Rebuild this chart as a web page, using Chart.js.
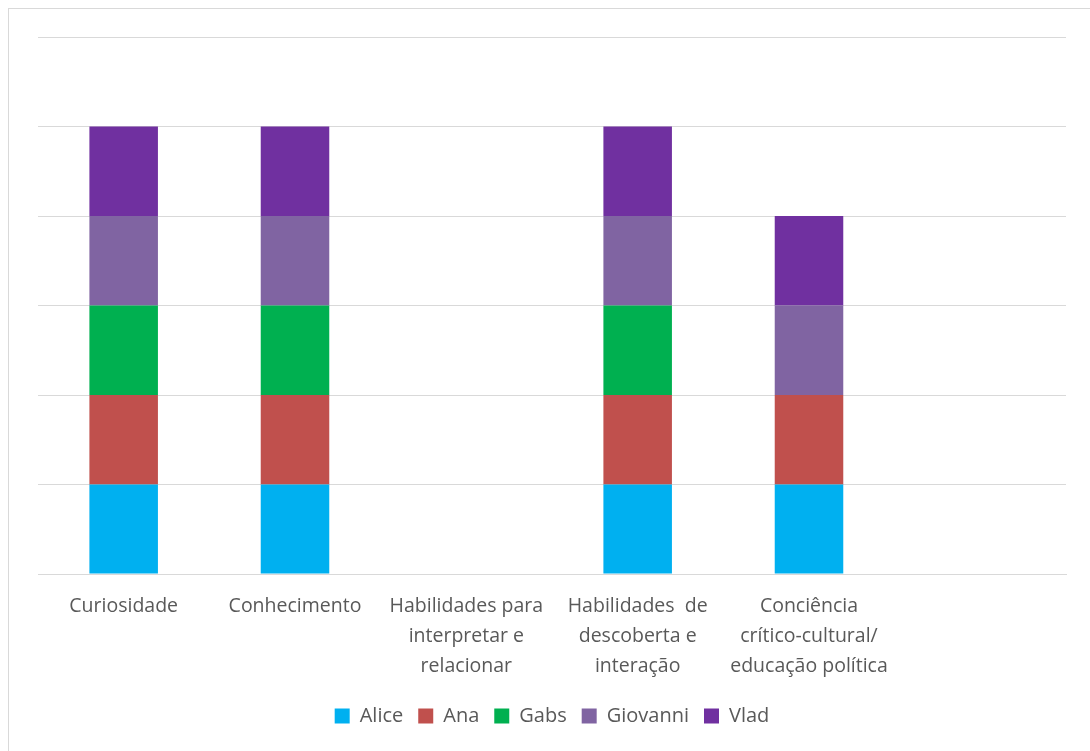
<!DOCTYPE html>
<html>
<head>
<meta charset="utf-8">
<script src="https://cdn.jsdelivr.net/npm/chart.js@4/dist/chart.umd.min.js"></script>
<style>
  html, body { margin: 0; padding: 0; background: #fff; }
  #frame { position: absolute; left: 8px; top: 8px; width: 1100px; height: 760px; border: 1px solid #d9d9d9; }
  #wrap { position: absolute; left: 0; top: 0; width: 1090px; height: 751px; }
</style>
</head>
<body>
<div id="frame"></div>
<div id="wrap"><canvas id="chart"></canvas></div>
<script>
const categories = [
  "Curiosidade",
  "Conhecimento",
  ["Habilidades para", "interpretar e", "relacionar"],
  ["Habilidades  de", "descoberta e", "interação"],
  ["Conciência", "crítico-cultural/", "educação política"],
  ""
];
const alice    = [1, 1, 0, 1, 1, 0];
const ana      = [1, 1, 0, 1, 1, 0];
const gabs     = [1, 1, 0, 1, 0, 0];
const giovanni = [1, 1, 0, 1, 1, 0];
const vlad     = [1, 1, 0, 1, 1, 0];

const font = "'Open Sans', 'Liberation Sans', sans-serif";

const ctx = document.getElementById("chart").getContext("2d");
new Chart(ctx, {
  type: "bar",
  data: {
    labels: categories,
    datasets: [
      { label: "Alice", data: alice, backgroundColor: "#00B0F0" },
      { label: "Ana", data: ana, backgroundColor: "#C0504D" },
      { label: "Gabs", data: gabs, backgroundColor: "#00B050" },
      { label: "Giovanni", data: giovanni, backgroundColor: "#8064A2" },
      { label: "Vlad", data: vlad, backgroundColor: "#7030A0" }
    ]
  },
  options: {
    responsive: true,
    maintainAspectRatio: false,
    animation: false,
    categoryPercentage: 1,
    barPercentage: 0.4,
    layout: { padding: { left: 38, right: 24, top: 37, bottom: 15 } },
    plugins: {
      legend: {
        position: "bottom",
        labels: {
          color: "#595959",
          font: { family: font, size: 20 },
          boxWidth: 15,
          boxHeight: 15,
          padding: 15
        }
      },
      tooltip: { enabled: false }
    },
    scales: {
      x: {
        stacked: true,
        grid: { display: false },
        border: { color: "#d9d9d9", width: 1 },
        ticks: {
          color: "#595959",
          font: { family: font, size: 19.5, lineHeight: 1.52 },
          maxRotation: 0,
          autoSkip: false,
          padding: 10
        }
      },
      y: {
        stacked: true,
        min: 0,
        max: 6,
        ticks: { display: false, stepSize: 1 },
        grid: { color: "#d9d9d9", drawTicks: false },
        border: { display: false }
      }
    }
  }
});
</script>
</body>
</html>
